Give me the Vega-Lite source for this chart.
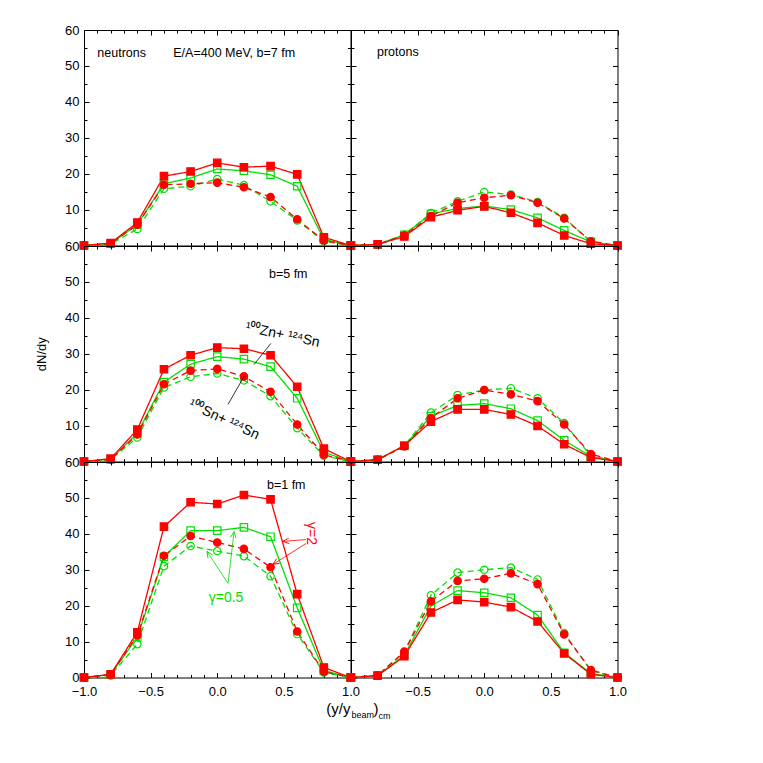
{
"$schema": "https://vega.github.io/schema/vega-lite/v6.json",
"padding": {"left": 35, "top": 23, "right": 5, "bottom": 5},
"background": "white",
"datasets": {"d": [
{"p":"n","b":7,"s":"Sn_g05","x":-1,"y":0},{"p":"n","b":7,"s":"Sn_g05","x":-0.8,"y":0.4},{"p":"n","b":7,"s":"Sn_g05","x":-0.6,"y":4.6},{"p":"n","b":7,"s":"Sn_g05","x":-0.4,"y":15.8},{"p":"n","b":7,"s":"Sn_g05","x":-0.2,"y":16.5},{"p":"n","b":7,"s":"Sn_g05","x":0,"y":18.5},{"p":"n","b":7,"s":"Sn_g05","x":0.2,"y":16.8},{"p":"n","b":7,"s":"Sn_g05","x":0.4,"y":12.3},{"p":"n","b":7,"s":"Sn_g05","x":0.6,"y":7.0},{"p":"n","b":7,"s":"Sn_g05","x":0.8,"y":1.2},{"p":"n","b":7,"s":"Sn_g05","x":1,"y":0},
{"p":"n","b":7,"s":"Zn_g05","x":-1,"y":0},{"p":"n","b":7,"s":"Zn_g05","x":-0.8,"y":0.5},{"p":"n","b":7,"s":"Zn_g05","x":-0.6,"y":5.8},{"p":"n","b":7,"s":"Zn_g05","x":-0.4,"y":17.2},{"p":"n","b":7,"s":"Zn_g05","x":-0.2,"y":18.8},{"p":"n","b":7,"s":"Zn_g05","x":0,"y":21.3},{"p":"n","b":7,"s":"Zn_g05","x":0.2,"y":20.8},{"p":"n","b":7,"s":"Zn_g05","x":0.4,"y":19.7},{"p":"n","b":7,"s":"Zn_g05","x":0.6,"y":16.5},{"p":"n","b":7,"s":"Zn_g05","x":0.8,"y":1.7},{"p":"n","b":7,"s":"Zn_g05","x":1,"y":0},
{"p":"n","b":7,"s":"Sn_g2","x":-1,"y":0},{"p":"n","b":7,"s":"Sn_g2","x":-0.8,"y":0.5},{"p":"n","b":7,"s":"Sn_g2","x":-0.6,"y":5.8},{"p":"n","b":7,"s":"Sn_g2","x":-0.4,"y":16.9},{"p":"n","b":7,"s":"Sn_g2","x":-0.2,"y":17.2},{"p":"n","b":7,"s":"Sn_g2","x":0,"y":17.5},{"p":"n","b":7,"s":"Sn_g2","x":0.2,"y":16.2},{"p":"n","b":7,"s":"Sn_g2","x":0.4,"y":13.5},{"p":"n","b":7,"s":"Sn_g2","x":0.6,"y":7.3},{"p":"n","b":7,"s":"Sn_g2","x":0.8,"y":1.4},{"p":"n","b":7,"s":"Sn_g2","x":1,"y":0},
{"p":"n","b":7,"s":"Zn_g2","x":-1,"y":0},{"p":"n","b":7,"s":"Zn_g2","x":-0.8,"y":0.7},{"p":"n","b":7,"s":"Zn_g2","x":-0.6,"y":6.4},{"p":"n","b":7,"s":"Zn_g2","x":-0.4,"y":19.3},{"p":"n","b":7,"s":"Zn_g2","x":-0.2,"y":20.6},{"p":"n","b":7,"s":"Zn_g2","x":0,"y":23.0},{"p":"n","b":7,"s":"Zn_g2","x":0.2,"y":21.8},{"p":"n","b":7,"s":"Zn_g2","x":0.4,"y":22.1},{"p":"n","b":7,"s":"Zn_g2","x":0.6,"y":19.8},{"p":"n","b":7,"s":"Zn_g2","x":0.8,"y":2.3},{"p":"n","b":7,"s":"Zn_g2","x":1,"y":0},
{"p":"p","b":7,"s":"Sn_g05","x":-1,"y":0},{"p":"p","b":7,"s":"Sn_g05","x":-0.8,"y":0.3},{"p":"p","b":7,"s":"Sn_g05","x":-0.6,"y":3.0},{"p":"p","b":7,"s":"Sn_g05","x":-0.4,"y":9.0},{"p":"p","b":7,"s":"Sn_g05","x":-0.2,"y":12.3},{"p":"p","b":7,"s":"Sn_g05","x":0,"y":14.9},{"p":"p","b":7,"s":"Sn_g05","x":0.2,"y":14.2},{"p":"p","b":7,"s":"Sn_g05","x":0.4,"y":12.1},{"p":"p","b":7,"s":"Sn_g05","x":0.6,"y":7.7},{"p":"p","b":7,"s":"Sn_g05","x":0.8,"y":1.0},{"p":"p","b":7,"s":"Sn_g05","x":1,"y":0},
{"p":"p","b":7,"s":"Zn_g05","x":-1,"y":0},{"p":"p","b":7,"s":"Zn_g05","x":-0.8,"y":0.3},{"p":"p","b":7,"s":"Zn_g05","x":-0.6,"y":3.0},{"p":"p","b":7,"s":"Zn_g05","x":-0.4,"y":8.8},{"p":"p","b":7,"s":"Zn_g05","x":-0.2,"y":10.3},{"p":"p","b":7,"s":"Zn_g05","x":0,"y":11.0},{"p":"p","b":7,"s":"Zn_g05","x":0.2,"y":10.0},{"p":"p","b":7,"s":"Zn_g05","x":0.4,"y":7.7},{"p":"p","b":7,"s":"Zn_g05","x":0.6,"y":4.2},{"p":"p","b":7,"s":"Zn_g05","x":0.8,"y":1.0},{"p":"p","b":7,"s":"Zn_g05","x":1,"y":0},
{"p":"p","b":7,"s":"Sn_g2","x":-1,"y":0},{"p":"p","b":7,"s":"Sn_g2","x":-0.8,"y":0.3},{"p":"p","b":7,"s":"Sn_g2","x":-0.6,"y":2.8},{"p":"p","b":7,"s":"Sn_g2","x":-0.4,"y":8.2},{"p":"p","b":7,"s":"Sn_g2","x":-0.2,"y":11.9},{"p":"p","b":7,"s":"Sn_g2","x":0,"y":13.3},{"p":"p","b":7,"s":"Sn_g2","x":0.2,"y":14.0},{"p":"p","b":7,"s":"Sn_g2","x":0.4,"y":11.9},{"p":"p","b":7,"s":"Sn_g2","x":0.6,"y":7.5},{"p":"p","b":7,"s":"Sn_g2","x":0.8,"y":1.2},{"p":"p","b":7,"s":"Sn_g2","x":1,"y":0},
{"p":"p","b":7,"s":"Zn_g2","x":-1,"y":0},{"p":"p","b":7,"s":"Zn_g2","x":-0.8,"y":0.3},{"p":"p","b":7,"s":"Zn_g2","x":-0.6,"y":2.5},{"p":"p","b":7,"s":"Zn_g2","x":-0.4,"y":7.9},{"p":"p","b":7,"s":"Zn_g2","x":-0.2,"y":9.8},{"p":"p","b":7,"s":"Zn_g2","x":0,"y":10.9},{"p":"p","b":7,"s":"Zn_g2","x":0.2,"y":9.1},{"p":"p","b":7,"s":"Zn_g2","x":0.4,"y":6.3},{"p":"p","b":7,"s":"Zn_g2","x":0.6,"y":2.8},{"p":"p","b":7,"s":"Zn_g2","x":0.8,"y":0.5},{"p":"p","b":7,"s":"Zn_g2","x":1,"y":0},
{"p":"n","b":5,"s":"Sn_g05","x":-1,"y":0},{"p":"n","b":5,"s":"Sn_g05","x":-0.8,"y":0.5},{"p":"n","b":5,"s":"Sn_g05","x":-0.6,"y":6.7},{"p":"n","b":5,"s":"Sn_g05","x":-0.4,"y":20.6},{"p":"n","b":5,"s":"Sn_g05","x":-0.2,"y":23.6},{"p":"n","b":5,"s":"Sn_g05","x":0,"y":24.5},{"p":"n","b":5,"s":"Sn_g05","x":0.2,"y":22.6},{"p":"n","b":5,"s":"Sn_g05","x":0.4,"y":18.2},{"p":"n","b":5,"s":"Sn_g05","x":0.6,"y":9.3},{"p":"n","b":5,"s":"Sn_g05","x":0.8,"y":1.6},{"p":"n","b":5,"s":"Sn_g05","x":1,"y":0},
{"p":"n","b":5,"s":"Zn_g05","x":-1,"y":0},{"p":"n","b":5,"s":"Zn_g05","x":-0.8,"y":0.6},{"p":"n","b":5,"s":"Zn_g05","x":-0.6,"y":7.9},{"p":"n","b":5,"s":"Zn_g05","x":-0.4,"y":22.1},{"p":"n","b":5,"s":"Zn_g05","x":-0.2,"y":27.1},{"p":"n","b":5,"s":"Zn_g05","x":0,"y":29.2},{"p":"n","b":5,"s":"Zn_g05","x":0.2,"y":28.5},{"p":"n","b":5,"s":"Zn_g05","x":0.4,"y":26.4},{"p":"n","b":5,"s":"Zn_g05","x":0.6,"y":17.6},{"p":"n","b":5,"s":"Zn_g05","x":0.8,"y":2.6},{"p":"n","b":5,"s":"Zn_g05","x":1,"y":0},
{"p":"n","b":5,"s":"Sn_g2","x":-1,"y":0},{"p":"n","b":5,"s":"Sn_g2","x":-0.8,"y":0.6},{"p":"n","b":5,"s":"Sn_g2","x":-0.6,"y":7.5},{"p":"n","b":5,"s":"Sn_g2","x":-0.4,"y":21.5},{"p":"n","b":5,"s":"Sn_g2","x":-0.2,"y":25.3},{"p":"n","b":5,"s":"Sn_g2","x":0,"y":25.8},{"p":"n","b":5,"s":"Sn_g2","x":0.2,"y":23.7},{"p":"n","b":5,"s":"Sn_g2","x":0.4,"y":19.4},{"p":"n","b":5,"s":"Sn_g2","x":0.6,"y":10.3},{"p":"n","b":5,"s":"Sn_g2","x":0.8,"y":1.9},{"p":"n","b":5,"s":"Sn_g2","x":1,"y":0},
{"p":"n","b":5,"s":"Zn_g2","x":-1,"y":0},{"p":"n","b":5,"s":"Zn_g2","x":-0.8,"y":0.8},{"p":"n","b":5,"s":"Zn_g2","x":-0.6,"y":8.9},{"p":"n","b":5,"s":"Zn_g2","x":-0.4,"y":25.7},{"p":"n","b":5,"s":"Zn_g2","x":-0.2,"y":29.6},{"p":"n","b":5,"s":"Zn_g2","x":0,"y":31.7},{"p":"n","b":5,"s":"Zn_g2","x":0.2,"y":31.4},{"p":"n","b":5,"s":"Zn_g2","x":0.4,"y":29.6},{"p":"n","b":5,"s":"Zn_g2","x":0.6,"y":20.8},{"p":"n","b":5,"s":"Zn_g2","x":0.8,"y":3.6},{"p":"n","b":5,"s":"Zn_g2","x":1,"y":0},
{"p":"p","b":5,"s":"Sn_g05","x":-1,"y":0},{"p":"p","b":5,"s":"Sn_g05","x":-0.8,"y":0.5},{"p":"p","b":5,"s":"Sn_g05","x":-0.6,"y":4.4},{"p":"p","b":5,"s":"Sn_g05","x":-0.4,"y":13.6},{"p":"p","b":5,"s":"Sn_g05","x":-0.2,"y":18.5},{"p":"p","b":5,"s":"Sn_g05","x":0,"y":19.9},{"p":"p","b":5,"s":"Sn_g05","x":0.2,"y":20.4},{"p":"p","b":5,"s":"Sn_g05","x":0.4,"y":17.6},{"p":"p","b":5,"s":"Sn_g05","x":0.6,"y":10.7},{"p":"p","b":5,"s":"Sn_g05","x":0.8,"y":1.6},{"p":"p","b":5,"s":"Sn_g05","x":1,"y":0},
{"p":"p","b":5,"s":"Zn_g05","x":-1,"y":0},{"p":"p","b":5,"s":"Zn_g05","x":-0.8,"y":0.5},{"p":"p","b":5,"s":"Zn_g05","x":-0.6,"y":4.4},{"p":"p","b":5,"s":"Zn_g05","x":-0.4,"y":12.6},{"p":"p","b":5,"s":"Zn_g05","x":-0.2,"y":15.6},{"p":"p","b":5,"s":"Zn_g05","x":0,"y":16.1},{"p":"p","b":5,"s":"Zn_g05","x":0.2,"y":14.7},{"p":"p","b":5,"s":"Zn_g05","x":0.4,"y":11.4},{"p":"p","b":5,"s":"Zn_g05","x":0.6,"y":5.9},{"p":"p","b":5,"s":"Zn_g05","x":0.8,"y":1.4},{"p":"p","b":5,"s":"Zn_g05","x":1,"y":0},
{"p":"p","b":5,"s":"Sn_g2","x":-1,"y":0},{"p":"p","b":5,"s":"Sn_g2","x":-0.8,"y":0.5},{"p":"p","b":5,"s":"Sn_g2","x":-0.6,"y":4.2},{"p":"p","b":5,"s":"Sn_g2","x":-0.4,"y":12.1},{"p":"p","b":5,"s":"Sn_g2","x":-0.2,"y":17.6},{"p":"p","b":5,"s":"Sn_g2","x":0,"y":19.9},{"p":"p","b":5,"s":"Sn_g2","x":0.2,"y":18.7},{"p":"p","b":5,"s":"Sn_g2","x":0.4,"y":16.8},{"p":"p","b":5,"s":"Sn_g2","x":0.6,"y":10.3},{"p":"p","b":5,"s":"Sn_g2","x":0.8,"y":2.1},{"p":"p","b":5,"s":"Sn_g2","x":1,"y":0},
{"p":"p","b":5,"s":"Zn_g2","x":-1,"y":0},{"p":"p","b":5,"s":"Zn_g2","x":-0.8,"y":0.5},{"p":"p","b":5,"s":"Zn_g2","x":-0.6,"y":4.4},{"p":"p","b":5,"s":"Zn_g2","x":-0.4,"y":11.1},{"p":"p","b":5,"s":"Zn_g2","x":-0.2,"y":14.5},{"p":"p","b":5,"s":"Zn_g2","x":0,"y":14.5},{"p":"p","b":5,"s":"Zn_g2","x":0.2,"y":13.1},{"p":"p","b":5,"s":"Zn_g2","x":0.4,"y":9.9},{"p":"p","b":5,"s":"Zn_g2","x":0.6,"y":4.8},{"p":"p","b":5,"s":"Zn_g2","x":0.8,"y":1.1},{"p":"p","b":5,"s":"Zn_g2","x":1,"y":0},
{"p":"n","b":1,"s":"Sn_g05","x":-1,"y":0},{"p":"n","b":1,"s":"Sn_g05","x":-0.8,"y":0.6},{"p":"n","b":1,"s":"Sn_g05","x":-0.6,"y":9.3},{"p":"n","b":1,"s":"Sn_g05","x":-0.4,"y":31.0},{"p":"n","b":1,"s":"Sn_g05","x":-0.2,"y":36.6},{"p":"n","b":1,"s":"Sn_g05","x":0,"y":35.2},{"p":"n","b":1,"s":"Sn_g05","x":0.2,"y":33.8},{"p":"n","b":1,"s":"Sn_g05","x":0.4,"y":28.2},{"p":"n","b":1,"s":"Sn_g05","x":0.6,"y":12.1},{"p":"n","b":1,"s":"Sn_g05","x":0.8,"y":1.4},{"p":"n","b":1,"s":"Sn_g05","x":1,"y":0},
{"p":"n","b":1,"s":"Zn_g05","x":-1,"y":0},{"p":"n","b":1,"s":"Zn_g05","x":-0.8,"y":0.8},{"p":"n","b":1,"s":"Zn_g05","x":-0.6,"y":11.2},{"p":"n","b":1,"s":"Zn_g05","x":-0.4,"y":33.6},{"p":"n","b":1,"s":"Zn_g05","x":-0.2,"y":40.9},{"p":"n","b":1,"s":"Zn_g05","x":0,"y":40.9},{"p":"n","b":1,"s":"Zn_g05","x":0.2,"y":41.8},{"p":"n","b":1,"s":"Zn_g05","x":0.4,"y":39.2},{"p":"n","b":1,"s":"Zn_g05","x":0.6,"y":19.4},{"p":"n","b":1,"s":"Zn_g05","x":0.8,"y":1.9},{"p":"n","b":1,"s":"Zn_g05","x":1,"y":0},
{"p":"n","b":1,"s":"Sn_g2","x":-1,"y":0},{"p":"n","b":1,"s":"Sn_g2","x":-0.8,"y":0.8},{"p":"n","b":1,"s":"Sn_g2","x":-0.6,"y":11.7},{"p":"n","b":1,"s":"Sn_g2","x":-0.4,"y":33.9},{"p":"n","b":1,"s":"Sn_g2","x":-0.2,"y":39.4},{"p":"n","b":1,"s":"Sn_g2","x":0,"y":37.6},{"p":"n","b":1,"s":"Sn_g2","x":0.2,"y":35.8},{"p":"n","b":1,"s":"Sn_g2","x":0.4,"y":30.7},{"p":"n","b":1,"s":"Sn_g2","x":0.6,"y":12.8},{"p":"n","b":1,"s":"Sn_g2","x":0.8,"y":1.6},{"p":"n","b":1,"s":"Sn_g2","x":1,"y":0},
{"p":"n","b":1,"s":"Zn_g2","x":-1,"y":0},{"p":"n","b":1,"s":"Zn_g2","x":-0.8,"y":0.9},{"p":"n","b":1,"s":"Zn_g2","x":-0.6,"y":12.6},{"p":"n","b":1,"s":"Zn_g2","x":-0.4,"y":42.0},{"p":"n","b":1,"s":"Zn_g2","x":-0.2,"y":48.8},{"p":"n","b":1,"s":"Zn_g2","x":0,"y":48.3},{"p":"n","b":1,"s":"Zn_g2","x":0.2,"y":50.8},{"p":"n","b":1,"s":"Zn_g2","x":0.4,"y":49.6},{"p":"n","b":1,"s":"Zn_g2","x":0.6,"y":23.2},{"p":"n","b":1,"s":"Zn_g2","x":0.8,"y":2.8},{"p":"n","b":1,"s":"Zn_g2","x":1,"y":0},
{"p":"p","b":1,"s":"Sn_g05","x":-1,"y":0},{"p":"p","b":1,"s":"Sn_g05","x":-0.8,"y":0.6},{"p":"p","b":1,"s":"Sn_g05","x":-0.6,"y":7.0},{"p":"p","b":1,"s":"Sn_g05","x":-0.4,"y":22.9},{"p":"p","b":1,"s":"Sn_g05","x":-0.2,"y":29.2},{"p":"p","b":1,"s":"Sn_g05","x":0,"y":30.0},{"p":"p","b":1,"s":"Sn_g05","x":0.2,"y":30.6},{"p":"p","b":1,"s":"Sn_g05","x":0.4,"y":27.3},{"p":"p","b":1,"s":"Sn_g05","x":0.6,"y":12.4},{"p":"p","b":1,"s":"Sn_g05","x":0.8,"y":1.9},{"p":"p","b":1,"s":"Sn_g05","x":1,"y":0},
{"p":"p","b":1,"s":"Zn_g05","x":-1,"y":0},{"p":"p","b":1,"s":"Zn_g05","x":-0.8,"y":0.6},{"p":"p","b":1,"s":"Zn_g05","x":-0.6,"y":6.2},{"p":"p","b":1,"s":"Zn_g05","x":-0.4,"y":19.9},{"p":"p","b":1,"s":"Zn_g05","x":-0.2,"y":24.2},{"p":"p","b":1,"s":"Zn_g05","x":0,"y":23.6},{"p":"p","b":1,"s":"Zn_g05","x":0.2,"y":22.2},{"p":"p","b":1,"s":"Zn_g05","x":0.4,"y":17.4},{"p":"p","b":1,"s":"Zn_g05","x":0.6,"y":6.9},{"p":"p","b":1,"s":"Zn_g05","x":0.8,"y":1.1},{"p":"p","b":1,"s":"Zn_g05","x":1,"y":0},
{"p":"p","b":1,"s":"Sn_g2","x":-1,"y":0},{"p":"p","b":1,"s":"Sn_g2","x":-0.8,"y":0.6},{"p":"p","b":1,"s":"Sn_g2","x":-0.6,"y":7.2},{"p":"p","b":1,"s":"Sn_g2","x":-0.4,"y":21.2},{"p":"p","b":1,"s":"Sn_g2","x":-0.2,"y":26.9},{"p":"p","b":1,"s":"Sn_g2","x":0,"y":27.5},{"p":"p","b":1,"s":"Sn_g2","x":0.2,"y":29.0},{"p":"p","b":1,"s":"Sn_g2","x":0.4,"y":26.0},{"p":"p","b":1,"s":"Sn_g2","x":0.6,"y":12.0},{"p":"p","b":1,"s":"Sn_g2","x":0.8,"y":2.1},{"p":"p","b":1,"s":"Sn_g2","x":1,"y":0},
{"p":"p","b":1,"s":"Zn_g2","x":-1,"y":0},{"p":"p","b":1,"s":"Zn_g2","x":-0.8,"y":0.5},{"p":"p","b":1,"s":"Zn_g2","x":-0.6,"y":5.9},{"p":"p","b":1,"s":"Zn_g2","x":-0.4,"y":18.1},{"p":"p","b":1,"s":"Zn_g2","x":-0.2,"y":21.6},{"p":"p","b":1,"s":"Zn_g2","x":0,"y":21.0},{"p":"p","b":1,"s":"Zn_g2","x":0.2,"y":19.6},{"p":"p","b":1,"s":"Zn_g2","x":0.4,"y":15.6},{"p":"p","b":1,"s":"Zn_g2","x":0.6,"y":6.7},{"p":"p","b":1,"s":"Zn_g2","x":0.8,"y":0.9},{"p":"p","b":1,"s":"Zn_g2","x":1,"y":0}
]},
"columns": 2,
"spacing": 0,
"bounds": "flush",
"concat": [
{"width": 266.5, "height": 215.5,
 "layer": [
  {"data": {"name": "d"}, "transform": [{"filter": "datum.p==='n' && datum.b===7"}],
   "mark": {"type": "line", "strokeWidth": 1.3},
   "encoding": {
    "x": {"field": "x", "type": "quantitative", "scale": {"domain": [-1, 1], "nice": false, "zero": false}, "axis": {"orient": "bottom", "values": [-1,-0.9,-0.8,-0.7,-0.6,-0.5,-0.4,-0.3,-0.2,-0.1,0,0.1,0.2,0.3,0.4,0.5,0.6,0.7,0.8,0.9,1], "labels": false, "tickSize": {"condition": {"test": "round(datum.value*10) % 5 === 0", "value": -5}, "value": -3}, "title": null}},
    "y": {"field": "y", "type": "quantitative", "scale": {"domain": [0, 60], "nice": false}, "axis": {"orient": "left", "values": [0,5,10,15,20,25,30,35,40,45,50,55,60], "labelExpr": "datum.value % 10 === 0 && datum.value > 0 ? datum.label : ''", "tickSize": {"condition": {"test": "datum.value % 10 === 0", "value": -5}, "value": -3}, "labelPadding": 10, "title": null}},
    "color": {"field": "s", "type": "nominal", "scale": {"domain": ["Zn_g2","Zn_g05","Sn_g2","Sn_g05"], "range": ["#ff0000","#00e000","#ff0000","#00e000"]}, "legend": null},
    "strokeDash": {"field": "s", "type": "nominal", "scale": {"domain": ["Zn_g2","Zn_g05","Sn_g2","Sn_g05"], "range": [[1,0],[1,0],[6,4],[6,4]]}, "legend": null}
   }},
  {"data": {"name": "d"}, "transform": [{"filter": "datum.p==='n' && datum.b===7"}],
   "mark": {"type": "point", "filled": true, "opacity": 1, "strokeWidth": 1.2, "size": 55},
   "encoding": {
    "x": {"field": "x", "type": "quantitative", "axis": null},
    "y": {"field": "y", "type": "quantitative", "axis": null},
    "shape": {"field": "s", "type": "nominal", "scale": {"domain": ["Zn_g2","Zn_g05","Sn_g2","Sn_g05"], "range": ["square","square","circle","circle"]}, "legend": null},
    "fill": {"field": "s", "type": "nominal", "scale": {"domain": ["Zn_g2","Zn_g05","Sn_g2","Sn_g05"], "range": ["#ff0000","rgba(255,255,255,0)","#ff0000","rgba(255,255,255,0)"]}, "legend": null},
    "stroke": {"field": "s", "type": "nominal", "scale": {"domain": ["Zn_g2","Zn_g05","Sn_g2","Sn_g05"], "range": ["#ff0000","#00e000","#ff0000","#00e000"]}, "legend": null}
   }},
  {"data": {"name": "d"}, "transform": [{"filter": "datum.p==='n' && datum.b===7"}],
   "mark": {"type": "point", "opacity": 0},
   "encoding": {
    "x": {"field": "x", "type": "quantitative", "axis": {"orient": "top", "values": [-1,-0.9,-0.8,-0.7,-0.6,-0.5,-0.4,-0.3,-0.2,-0.1,0,0.1,0.2,0.3,0.4,0.5,0.6,0.7,0.8,0.9,1], "labels": false, "tickSize": {"condition": {"test": "round(datum.value*10) % 5 === 0", "value": -5}, "value": -3}, "title": null}},
    "y": {"field": "y", "type": "quantitative", "axis": {"orient": "right", "values": [0,5,10,15,20,25,30,35,40,45,50,55,60], "labels": false, "tickSize": {"condition": {"test": "datum.value % 10 === 0", "value": -5}, "value": -3}, "title": null}}
   }},
  {"data": {"values": [{}]}, "mark": {"type": "text", "text": "neutrons", "align": "left", "baseline": "middle", "fontSize": 12.5, "fill": "black"},
   "encoding": {"x": {"datum": -0.9, "type": "quantitative", "axis": null}, "y": {"datum": 53.6, "type": "quantitative", "axis": null}}},
  {"data": {"values": [{}]}, "mark": {"type": "text", "text": "E/A=400 MeV, b=7 fm", "align": "left", "baseline": "middle", "fontSize": 12.5, "fill": "black"},
   "encoding": {"x": {"datum": -0.33, "type": "quantitative", "axis": null}, "y": {"datum": 53.6, "type": "quantitative", "axis": null}}}
 ],
 "resolve": {"axis": {"x": "independent", "y": "independent"}}},
{"width": 266.5, "height": 215.5,
 "layer": [
  {"data": {"name": "d"}, "transform": [{"filter": "datum.p==='p' && datum.b===7"}],
   "mark": {"type": "line", "strokeWidth": 1.3},
   "encoding": {
    "x": {"field": "x", "type": "quantitative", "scale": {"domain": [-1, 1], "nice": false, "zero": false}, "axis": {"orient": "bottom", "values": [-1,-0.9,-0.8,-0.7,-0.6,-0.5,-0.4,-0.3,-0.2,-0.1,0,0.1,0.2,0.3,0.4,0.5,0.6,0.7,0.8,0.9,1], "labels": false, "tickSize": {"condition": {"test": "round(datum.value*10) % 5 === 0", "value": -5}, "value": -3}, "title": null}},
    "y": {"field": "y", "type": "quantitative", "scale": {"domain": [0, 60], "nice": false}, "axis": {"orient": "left", "values": [0,5,10,15,20,25,30,35,40,45,50,55,60], "labels": false, "tickSize": {"condition": {"test": "datum.value % 10 === 0", "value": -5}, "value": -3}, "title": null}},
    "color": {"field": "s", "type": "nominal", "scale": {"domain": ["Zn_g2","Zn_g05","Sn_g2","Sn_g05"], "range": ["#ff0000","#00e000","#ff0000","#00e000"]}, "legend": null},
    "strokeDash": {"field": "s", "type": "nominal", "scale": {"domain": ["Zn_g2","Zn_g05","Sn_g2","Sn_g05"], "range": [[1,0],[1,0],[6,4],[6,4]]}, "legend": null}
   }},
  {"data": {"name": "d"}, "transform": [{"filter": "datum.p==='p' && datum.b===7"}],
   "mark": {"type": "point", "filled": true, "opacity": 1, "strokeWidth": 1.2, "size": 55},
   "encoding": {
    "x": {"field": "x", "type": "quantitative", "axis": null},
    "y": {"field": "y", "type": "quantitative", "axis": null},
    "shape": {"field": "s", "type": "nominal", "scale": {"domain": ["Zn_g2","Zn_g05","Sn_g2","Sn_g05"], "range": ["square","square","circle","circle"]}, "legend": null},
    "fill": {"field": "s", "type": "nominal", "scale": {"domain": ["Zn_g2","Zn_g05","Sn_g2","Sn_g05"], "range": ["#ff0000","rgba(255,255,255,0)","#ff0000","rgba(255,255,255,0)"]}, "legend": null},
    "stroke": {"field": "s", "type": "nominal", "scale": {"domain": ["Zn_g2","Zn_g05","Sn_g2","Sn_g05"], "range": ["#ff0000","#00e000","#ff0000","#00e000"]}, "legend": null}
   }},
  {"data": {"name": "d"}, "transform": [{"filter": "datum.p==='p' && datum.b===7"}],
   "mark": {"type": "point", "opacity": 0},
   "encoding": {
    "x": {"field": "x", "type": "quantitative", "axis": {"orient": "top", "values": [-1,-0.9,-0.8,-0.7,-0.6,-0.5,-0.4,-0.3,-0.2,-0.1,0,0.1,0.2,0.3,0.4,0.5,0.6,0.7,0.8,0.9,1], "labels": false, "tickSize": {"condition": {"test": "round(datum.value*10) % 5 === 0", "value": -5}, "value": -3}, "title": null}},
    "y": {"field": "y", "type": "quantitative", "axis": {"orient": "right", "values": [0,5,10,15,20,25,30,35,40,45,50,55,60], "labels": false, "tickSize": {"condition": {"test": "datum.value % 10 === 0", "value": -5}, "value": -3}, "title": null}}
   }},
  {"data": {"values": [{}]}, "mark": {"type": "text", "text": "protons", "align": "left", "baseline": "middle", "fontSize": 12.5, "fill": "black"},
   "encoding": {"x": {"datum": -0.805, "type": "quantitative", "axis": null}, "y": {"datum": 54.0, "type": "quantitative", "axis": null}}}
 ],
 "resolve": {"axis": {"x": "independent", "y": "independent"}}},
{"width": 266.5, "height": 215.5,
 "layer": [
  {"data": {"name": "d"}, "transform": [{"filter": "datum.p==='n' && datum.b===5"}],
   "mark": {"type": "line", "strokeWidth": 1.3},
   "encoding": {
    "x": {"field": "x", "type": "quantitative", "scale": {"domain": [-1, 1], "nice": false, "zero": false}, "axis": {"orient": "bottom", "values": [-1,-0.9,-0.8,-0.7,-0.6,-0.5,-0.4,-0.3,-0.2,-0.1,0,0.1,0.2,0.3,0.4,0.5,0.6,0.7,0.8,0.9,1], "labels": false, "tickSize": {"condition": {"test": "round(datum.value*10) % 5 === 0", "value": -5}, "value": -3}, "title": null}},
    "y": {"field": "y", "type": "quantitative", "scale": {"domain": [0, 60], "nice": false}, "axis": {"orient": "left", "values": [0,5,10,15,20,25,30,35,40,45,50,55,60], "labelExpr": "datum.value % 10 === 0 && datum.value > 0 ? datum.label : ''", "tickSize": {"condition": {"test": "datum.value % 10 === 0", "value": -5}, "value": -3}, "labelPadding": 10, "title": "dN/dy", "titlePadding": 16}},
    "color": {"field": "s", "type": "nominal", "scale": {"domain": ["Zn_g2","Zn_g05","Sn_g2","Sn_g05"], "range": ["#ff0000","#00e000","#ff0000","#00e000"]}, "legend": null},
    "strokeDash": {"field": "s", "type": "nominal", "scale": {"domain": ["Zn_g2","Zn_g05","Sn_g2","Sn_g05"], "range": [[1,0],[1,0],[6,4],[6,4]]}, "legend": null}
   }},
  {"data": {"name": "d"}, "transform": [{"filter": "datum.p==='n' && datum.b===5"}],
   "mark": {"type": "point", "filled": true, "opacity": 1, "strokeWidth": 1.2, "size": 55},
   "encoding": {
    "x": {"field": "x", "type": "quantitative", "axis": null},
    "y": {"field": "y", "type": "quantitative", "axis": null},
    "shape": {"field": "s", "type": "nominal", "scale": {"domain": ["Zn_g2","Zn_g05","Sn_g2","Sn_g05"], "range": ["square","square","circle","circle"]}, "legend": null},
    "fill": {"field": "s", "type": "nominal", "scale": {"domain": ["Zn_g2","Zn_g05","Sn_g2","Sn_g05"], "range": ["#ff0000","rgba(255,255,255,0)","#ff0000","rgba(255,255,255,0)"]}, "legend": null},
    "stroke": {"field": "s", "type": "nominal", "scale": {"domain": ["Zn_g2","Zn_g05","Sn_g2","Sn_g05"], "range": ["#ff0000","#00e000","#ff0000","#00e000"]}, "legend": null}
   }},
  {"data": {"name": "d"}, "transform": [{"filter": "datum.p==='n' && datum.b===5"}],
   "mark": {"type": "point", "opacity": 0},
   "encoding": {
    "x": {"field": "x", "type": "quantitative", "axis": {"orient": "top", "values": [-1,-0.9,-0.8,-0.7,-0.6,-0.5,-0.4,-0.3,-0.2,-0.1,0,0.1,0.2,0.3,0.4,0.5,0.6,0.7,0.8,0.9,1], "labels": false, "tickSize": {"condition": {"test": "round(datum.value*10) % 5 === 0", "value": -5}, "value": -3}, "title": null}},
    "y": {"field": "y", "type": "quantitative", "axis": {"orient": "right", "values": [0,5,10,15,20,25,30,35,40,45,50,55,60], "labels": false, "tickSize": {"condition": {"test": "datum.value % 10 === 0", "value": -5}, "value": -3}, "title": null}}
   }},
  {"data": {"values": [{}]}, "mark": {"type": "text", "text": "b=5 fm", "align": "left", "baseline": "middle", "fontSize": 12.5, "fill": "black"},
   "encoding": {"x": {"datum": 0.388, "type": "quantitative", "axis": null}, "y": {"datum": 52.1, "type": "quantitative", "axis": null}}},
  {"data": {"values": [{}]}, "mark": {"type": "text", "text": "¹⁰⁰Zn+ ¹²⁴Sn", "align": "center", "baseline": "middle", "fontSize": 14, "angle": 12, "fill": "black"},
   "encoding": {"x": {"datum": 0.49, "type": "quantitative", "axis": null}, "y": {"datum": 35.2, "type": "quantitative", "axis": null}}},
  {"data": {"values": [{}]}, "mark": {"type": "text", "text": "¹⁰⁰Sn+ ¹²⁴Sn", "align": "center", "baseline": "middle", "fontSize": 14, "angle": 25, "fill": "black"},
   "encoding": {"x": {"datum": 0.05, "type": "quantitative", "axis": null}, "y": {"datum": 11.6, "type": "quantitative", "axis": null}}},
  {"data": {"values": [{}]}, "mark": {"type": "rule", "color": "black", "strokeWidth": 0.8},
   "encoding": {"x": {"datum": 0.403, "type": "quantitative", "axis": null}, "y": {"datum": 32.9, "type": "quantitative", "axis": null}, "x2": {"datum": 0.276}, "y2": {"datum": 27.0}}},
  {"data": {"values": [{}]}, "mark": {"type": "rule", "color": "black", "strokeWidth": 0.8},
   "encoding": {"x": {"datum": 0.081, "type": "quantitative", "axis": null}, "y": {"datum": 15.9, "type": "quantitative", "axis": null}, "x2": {"datum": 0.201}, "y2": {"datum": 23.7}}}
 ],
 "resolve": {"axis": {"x": "independent", "y": "independent"}}},
{"width": 266.5, "height": 215.5,
 "layer": [
  {"data": {"name": "d"}, "transform": [{"filter": "datum.p==='p' && datum.b===5"}],
   "mark": {"type": "line", "strokeWidth": 1.3},
   "encoding": {
    "x": {"field": "x", "type": "quantitative", "scale": {"domain": [-1, 1], "nice": false, "zero": false}, "axis": {"orient": "bottom", "values": [-1,-0.9,-0.8,-0.7,-0.6,-0.5,-0.4,-0.3,-0.2,-0.1,0,0.1,0.2,0.3,0.4,0.5,0.6,0.7,0.8,0.9,1], "labels": false, "tickSize": {"condition": {"test": "round(datum.value*10) % 5 === 0", "value": -5}, "value": -3}, "title": null}},
    "y": {"field": "y", "type": "quantitative", "scale": {"domain": [0, 60], "nice": false}, "axis": {"orient": "left", "values": [0,5,10,15,20,25,30,35,40,45,50,55,60], "labels": false, "tickSize": {"condition": {"test": "datum.value % 10 === 0", "value": -5}, "value": -3}, "title": null}},
    "color": {"field": "s", "type": "nominal", "scale": {"domain": ["Zn_g2","Zn_g05","Sn_g2","Sn_g05"], "range": ["#ff0000","#00e000","#ff0000","#00e000"]}, "legend": null},
    "strokeDash": {"field": "s", "type": "nominal", "scale": {"domain": ["Zn_g2","Zn_g05","Sn_g2","Sn_g05"], "range": [[1,0],[1,0],[6,4],[6,4]]}, "legend": null}
   }},
  {"data": {"name": "d"}, "transform": [{"filter": "datum.p==='p' && datum.b===5"}],
   "mark": {"type": "point", "filled": true, "opacity": 1, "strokeWidth": 1.2, "size": 55},
   "encoding": {
    "x": {"field": "x", "type": "quantitative", "axis": null},
    "y": {"field": "y", "type": "quantitative", "axis": null},
    "shape": {"field": "s", "type": "nominal", "scale": {"domain": ["Zn_g2","Zn_g05","Sn_g2","Sn_g05"], "range": ["square","square","circle","circle"]}, "legend": null},
    "fill": {"field": "s", "type": "nominal", "scale": {"domain": ["Zn_g2","Zn_g05","Sn_g2","Sn_g05"], "range": ["#ff0000","rgba(255,255,255,0)","#ff0000","rgba(255,255,255,0)"]}, "legend": null},
    "stroke": {"field": "s", "type": "nominal", "scale": {"domain": ["Zn_g2","Zn_g05","Sn_g2","Sn_g05"], "range": ["#ff0000","#00e000","#ff0000","#00e000"]}, "legend": null}
   }},
  {"data": {"name": "d"}, "transform": [{"filter": "datum.p==='p' && datum.b===5"}],
   "mark": {"type": "point", "opacity": 0},
   "encoding": {
    "x": {"field": "x", "type": "quantitative", "axis": {"orient": "top", "values": [-1,-0.9,-0.8,-0.7,-0.6,-0.5,-0.4,-0.3,-0.2,-0.1,0,0.1,0.2,0.3,0.4,0.5,0.6,0.7,0.8,0.9,1], "labels": false, "tickSize": {"condition": {"test": "round(datum.value*10) % 5 === 0", "value": -5}, "value": -3}, "title": null}},
    "y": {"field": "y", "type": "quantitative", "axis": {"orient": "right", "values": [0,5,10,15,20,25,30,35,40,45,50,55,60], "labels": false, "tickSize": {"condition": {"test": "datum.value % 10 === 0", "value": -5}, "value": -3}, "title": null}}
   }}
 ],
 "resolve": {"axis": {"x": "independent", "y": "independent"}}},
{"width": 266.5, "height": 215.5,
 "layer": [
  {"data": {"name": "d"}, "transform": [{"filter": "datum.p==='n' && datum.b===1"}],
   "mark": {"type": "line", "strokeWidth": 1.3},
   "encoding": {
    "x": {"field": "x", "type": "quantitative", "scale": {"domain": [-1, 1], "nice": false, "zero": false}, "axis": {"orient": "bottom", "values": [-1,-0.9,-0.8,-0.7,-0.6,-0.5,-0.4,-0.3,-0.2,-0.1,0,0.1,0.2,0.3,0.4,0.5,0.6,0.7,0.8,0.9,1], "format": ".1f", "labelExpr": "round(datum.value*10) % 5 === 0 ? datum.label : ''", "tickSize": {"condition": {"test": "round(datum.value*10) % 5 === 0", "value": -5}, "value": -3}, "labelPadding": 13, "title": null}},
    "y": {"field": "y", "type": "quantitative", "scale": {"domain": [0, 60], "nice": false}, "axis": {"orient": "left", "values": [0,5,10,15,20,25,30,35,40,45,50,55,60], "labelExpr": "datum.value % 10 === 0 ? datum.label : ''", "tickSize": {"condition": {"test": "datum.value % 10 === 0", "value": -5}, "value": -3}, "labelPadding": 10, "title": null}},
    "color": {"field": "s", "type": "nominal", "scale": {"domain": ["Zn_g2","Zn_g05","Sn_g2","Sn_g05"], "range": ["#ff0000","#00e000","#ff0000","#00e000"]}, "legend": null},
    "strokeDash": {"field": "s", "type": "nominal", "scale": {"domain": ["Zn_g2","Zn_g05","Sn_g2","Sn_g05"], "range": [[1,0],[1,0],[6,4],[6,4]]}, "legend": null}
   }},
  {"data": {"name": "d"}, "transform": [{"filter": "datum.p==='n' && datum.b===1"}],
   "mark": {"type": "point", "filled": true, "opacity": 1, "strokeWidth": 1.2, "size": 55},
   "encoding": {
    "x": {"field": "x", "type": "quantitative", "axis": null},
    "y": {"field": "y", "type": "quantitative", "axis": null},
    "shape": {"field": "s", "type": "nominal", "scale": {"domain": ["Zn_g2","Zn_g05","Sn_g2","Sn_g05"], "range": ["square","square","circle","circle"]}, "legend": null},
    "fill": {"field": "s", "type": "nominal", "scale": {"domain": ["Zn_g2","Zn_g05","Sn_g2","Sn_g05"], "range": ["#ff0000","rgba(255,255,255,0)","#ff0000","rgba(255,255,255,0)"]}, "legend": null},
    "stroke": {"field": "s", "type": "nominal", "scale": {"domain": ["Zn_g2","Zn_g05","Sn_g2","Sn_g05"], "range": ["#ff0000","#00e000","#ff0000","#00e000"]}, "legend": null}
   }},
  {"data": {"name": "d"}, "transform": [{"filter": "datum.p==='n' && datum.b===1"}],
   "mark": {"type": "point", "opacity": 0},
   "encoding": {
    "x": {"field": "x", "type": "quantitative", "axis": {"orient": "top", "values": [-1,-0.9,-0.8,-0.7,-0.6,-0.5,-0.4,-0.3,-0.2,-0.1,0,0.1,0.2,0.3,0.4,0.5,0.6,0.7,0.8,0.9,1], "labels": false, "tickSize": {"condition": {"test": "round(datum.value*10) % 5 === 0", "value": -5}, "value": -3}, "title": null}},
    "y": {"field": "y", "type": "quantitative", "axis": {"orient": "right", "values": [0,5,10,15,20,25,30,35,40,45,50,55,60], "labels": false, "tickSize": {"condition": {"test": "datum.value % 10 === 0", "value": -5}, "value": -3}, "title": null}}
   }},
  {"data": {"values": [{}]}, "mark": {"type": "text", "text": "b=1 fm", "align": "left", "baseline": "middle", "fontSize": 12.5, "fill": "black"},
   "encoding": {"x": {"datum": 0.373, "type": "quantitative", "axis": null}, "y": {"datum": 53.7, "type": "quantitative", "axis": null}}},
  {"data": {"values": [{}]}, "mark": {"type": "text", "text": "γ=2", "align": "center", "baseline": "middle", "fontSize": 14, "angle": 90, "fill": "#ff0000"},
   "encoding": {"x": {"datum": 0.70, "type": "quantitative", "axis": null}, "y": {"datum": 40.1, "type": "quantitative", "axis": null}}},
  {"data": {"values": [{}]}, "mark": {"type": "text", "text": "γ=0.5", "align": "center", "baseline": "middle", "fontSize": 14, "fill": "#00e000"},
   "encoding": {"x": {"datum": 0.066, "type": "quantitative", "axis": null}, "y": {"datum": 22.0, "type": "quantitative", "axis": null}}},
  {"data": {"values": [{}]}, "mark": {"type": "rule", "color": "#ff0000", "strokeWidth": 0.8},
   "encoding": {"x": {"datum": 0.666, "type": "quantitative", "axis": null}, "y": {"datum": 38.4, "type": "quantitative", "axis": null}, "x2": {"datum": 0.493}, "y2": {"datum": 37.9}}},
  {"data": {"values": [{}]}, "mark": {"type": "rule", "color": "#ff0000", "strokeWidth": 0.8},
   "encoding": {"x": {"datum": 0.666, "type": "quantitative", "axis": null}, "y": {"datum": 37.3, "type": "quantitative", "axis": null}, "x2": {"datum": 0.418}, "y2": {"datum": 31.5}}},
  {"data": {"values": [{}]}, "mark": {"type": "rule", "color": "#00e000", "strokeWidth": 0.8},
   "encoding": {"x": {"datum": 0.081, "type": "quantitative", "axis": null}, "y": {"datum": 26.2, "type": "quantitative", "axis": null}, "x2": {"datum": -0.077}, "y2": {"datum": 35.1}}},
  {"data": {"values": [{}]}, "mark": {"type": "rule", "color": "#00e000", "strokeWidth": 0.8},
   "encoding": {"x": {"datum": 0.081, "type": "quantitative", "axis": null}, "y": {"datum": 26.2, "type": "quantitative", "axis": null}, "x2": {"datum": 0.126}, "y2": {"datum": 40.6}}},
  {"data": {"values": [{}]}, "mark": {"type": "point", "shape": "M-1,-0.45L0,0L-1,0.45", "filled": false, "opacity": 1, "stroke": "#ff0000", "strokeWidth": 0.9, "size": 150, "angle": 175},
   "encoding": {"x": {"datum": 0.493, "type": "quantitative", "axis": null}, "y": {"datum": 37.9, "type": "quantitative", "axis": null}}},
  {"data": {"values": [{}]}, "mark": {"type": "point", "shape": "M-1,-0.45L0,0L-1,0.45", "filled": false, "opacity": 1, "stroke": "#ff0000", "strokeWidth": 0.9, "size": 150, "angle": 147},
   "encoding": {"x": {"datum": 0.418, "type": "quantitative", "axis": null}, "y": {"datum": 31.5, "type": "quantitative", "axis": null}}},
  {"data": {"values": [{}]}, "mark": {"type": "point", "shape": "M-1,-0.45L0,0L-1,0.45", "filled": false, "opacity": 1, "stroke": "#00e000", "strokeWidth": 0.9, "size": 150, "angle": 237},
   "encoding": {"x": {"datum": -0.077, "type": "quantitative", "axis": null}, "y": {"datum": 35.1, "type": "quantitative", "axis": null}}},
  {"data": {"values": [{}]}, "mark": {"type": "point", "shape": "M-1,-0.45L0,0L-1,0.45", "filled": false, "opacity": 1, "stroke": "#00e000", "strokeWidth": 0.9, "size": 150, "angle": 277},
   "encoding": {"x": {"datum": 0.126, "type": "quantitative", "axis": null}, "y": {"datum": 40.6, "type": "quantitative", "axis": null}}},
  {"data": {"values": [{}]}, "mark": {"type": "text", "text": "(y/y", "align": "right", "baseline": "alphabetic", "fontSize": 15, "dx": 0, "fill": "black"},
   "encoding": {"x": {"datum": 1, "type": "quantitative", "axis": null}, "y": {"datum": -10.3, "type": "quantitative", "axis": null}}},
  {"data": {"values": [{}]}, "mark": {"type": "text", "text": "beam", "align": "left", "baseline": "alphabetic", "fontSize": 9, "dx": 1, "fill": "black"},
   "encoding": {"x": {"datum": 1, "type": "quantitative", "axis": null}, "y": {"datum": -11.2, "type": "quantitative", "axis": null}}},
  {"data": {"values": [{}]}, "mark": {"type": "text", "text": ")", "align": "left", "baseline": "alphabetic", "fontSize": 15, "dx": 23, "fill": "black"},
   "encoding": {"x": {"datum": 1, "type": "quantitative", "axis": null}, "y": {"datum": -10.3, "type": "quantitative", "axis": null}}},
  {"data": {"values": [{}]}, "mark": {"type": "text", "text": "cm", "align": "left", "baseline": "alphabetic", "fontSize": 9, "dx": 28, "fill": "black"},
   "encoding": {"x": {"datum": 1, "type": "quantitative", "axis": null}, "y": {"datum": -11.6, "type": "quantitative", "axis": null}}}
 ],
 "resolve": {"axis": {"x": "independent", "y": "independent"}}},
{"width": 266.5, "height": 215.5,
 "layer": [
  {"data": {"name": "d"}, "transform": [{"filter": "datum.p==='p' && datum.b===1"}],
   "mark": {"type": "line", "strokeWidth": 1.3},
   "encoding": {
    "x": {"field": "x", "type": "quantitative", "scale": {"domain": [-1, 1], "nice": false, "zero": false}, "axis": {"orient": "bottom", "values": [-1,-0.9,-0.8,-0.7,-0.6,-0.5,-0.4,-0.3,-0.2,-0.1,0,0.1,0.2,0.3,0.4,0.5,0.6,0.7,0.8,0.9,1], "format": ".1f", "labelExpr": "round(datum.value*10) % 5 === 0 && datum.value > -0.99 ? datum.label : ''", "tickSize": {"condition": {"test": "round(datum.value*10) % 5 === 0", "value": -5}, "value": -3}, "labelPadding": 13, "title": null}},
    "y": {"field": "y", "type": "quantitative", "scale": {"domain": [0, 60], "nice": false}, "axis": {"orient": "left", "values": [0,5,10,15,20,25,30,35,40,45,50,55,60], "labels": false, "tickSize": {"condition": {"test": "datum.value % 10 === 0", "value": -5}, "value": -3}, "title": null}},
    "color": {"field": "s", "type": "nominal", "scale": {"domain": ["Zn_g2","Zn_g05","Sn_g2","Sn_g05"], "range": ["#ff0000","#00e000","#ff0000","#00e000"]}, "legend": null},
    "strokeDash": {"field": "s", "type": "nominal", "scale": {"domain": ["Zn_g2","Zn_g05","Sn_g2","Sn_g05"], "range": [[1,0],[1,0],[6,4],[6,4]]}, "legend": null}
   }},
  {"data": {"name": "d"}, "transform": [{"filter": "datum.p==='p' && datum.b===1"}],
   "mark": {"type": "point", "filled": true, "opacity": 1, "strokeWidth": 1.2, "size": 55},
   "encoding": {
    "x": {"field": "x", "type": "quantitative", "axis": null},
    "y": {"field": "y", "type": "quantitative", "axis": null},
    "shape": {"field": "s", "type": "nominal", "scale": {"domain": ["Zn_g2","Zn_g05","Sn_g2","Sn_g05"], "range": ["square","square","circle","circle"]}, "legend": null},
    "fill": {"field": "s", "type": "nominal", "scale": {"domain": ["Zn_g2","Zn_g05","Sn_g2","Sn_g05"], "range": ["#ff0000","rgba(255,255,255,0)","#ff0000","rgba(255,255,255,0)"]}, "legend": null},
    "stroke": {"field": "s", "type": "nominal", "scale": {"domain": ["Zn_g2","Zn_g05","Sn_g2","Sn_g05"], "range": ["#ff0000","#00e000","#ff0000","#00e000"]}, "legend": null}
   }},
  {"data": {"name": "d"}, "transform": [{"filter": "datum.p==='p' && datum.b===1"}],
   "mark": {"type": "point", "opacity": 0},
   "encoding": {
    "x": {"field": "x", "type": "quantitative", "axis": {"orient": "top", "values": [-1,-0.9,-0.8,-0.7,-0.6,-0.5,-0.4,-0.3,-0.2,-0.1,0,0.1,0.2,0.3,0.4,0.5,0.6,0.7,0.8,0.9,1], "labels": false, "tickSize": {"condition": {"test": "round(datum.value*10) % 5 === 0", "value": -5}, "value": -3}, "title": null}},
    "y": {"field": "y", "type": "quantitative", "axis": {"orient": "right", "values": [0,5,10,15,20,25,30,35,40,45,50,55,60], "labels": false, "tickSize": {"condition": {"test": "datum.value % 10 === 0", "value": -5}, "value": -3}, "title": null}}
   }}
 ],
 "resolve": {"axis": {"x": "independent", "y": "independent"}}}
],
"config": {
 "view": {"stroke": "black", "strokeWidth": 1},
 "axis": {"domain": false, "grid": false, "tickColor": "black", "tickWidth": 1, "labelFont": "Liberation Sans", "labelFontSize": 13, "labelColor": "black", "titleFont": "Liberation Sans", "titleFontSize": 13, "titleFontWeight": "normal", "titleColor": "black", "labelFlush": false, "labelOverlap": false},
 "text": {"font": "Liberation Sans"}
}
}
